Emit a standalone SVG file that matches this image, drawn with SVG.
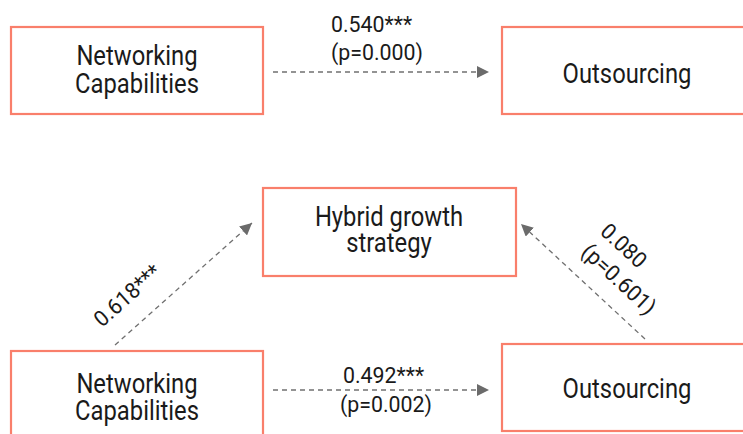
<svg xmlns="http://www.w3.org/2000/svg" width="743" height="434" viewBox="0 0 743 434">
<style>
.box{fill:#fff;stroke:#F97F6B;stroke-width:2.2}
.nt{font-family:"Roboto","Liberation Sans",sans-serif;font-size:28px;fill:#1a1a1a;text-anchor:middle}
.lb{font-family:"Roboto","Liberation Sans",sans-serif;font-size:22px;fill:#1a1a1a}
.ar{fill:none;stroke:#707070;stroke-width:1.3;stroke-dasharray:5 4;marker-end:url(#ah)}
</style>
<defs>
<marker id="ah" viewBox="0 0 12 12" refX="12" refY="6" markerUnits="userSpaceOnUse" markerWidth="12" markerHeight="12" orient="auto">
<path d="M0,0 L12,6 L0,12 z" fill="#6b6b6b"/>
</marker>
</defs>
<rect width="743" height="434" fill="#fff"/>
<g id="connectors">
<path class="ar" d="M273,72 L489,72"/>
<path class="ar" d="M273,390 L489,390"/>
<path class="ar" d="M115,345 L252,223"/>
<path class="ar" d="M645,339 L521,224"/>
<text class="lb" transform="translate(331,32) scale(0.97,1)">0.540***</text>
<text class="lb" transform="translate(331,60) scale(0.97,1)">(p=0.000)</text>
<text class="lb" transform="translate(343,383) scale(0.97,1)">0.492***</text>
<text class="lb" transform="translate(340,412) scale(0.97,1)">(p=0.002)</text>
<text class="lb" transform="translate(102,328) rotate(-41.7) scale(0.97,1)">0.618***</text>
<g transform="translate(599,233) rotate(42.8) scale(0.97,1)">
<text class="lb" x="0" y="0">0.080</text>
<text class="lb" x="0" y="28">(p=0.601)</text>
</g>
</g>
<g id="nc1">
<rect class="box" x="11" y="27" width="252" height="87"/>
<text class="nt" transform="translate(137,65) scale(0.85,1)">Networking</text>
<text class="nt" transform="translate(137,93) scale(0.85,1)">Capabilities</text>
</g>
<g id="out1">
<rect class="box" x="502" y="27" width="250" height="87"/>
<text class="nt" transform="translate(627,83) scale(0.85,1)">Outsourcing</text>
</g>
<g id="hybrid">
<rect class="box" x="263" y="188" width="253" height="88"/>
<text class="nt" transform="translate(389,226) scale(0.85,1)">Hybrid growth</text>
<text class="nt" transform="translate(389,252) scale(0.85,1)">strategy</text>
</g>
<g id="nc2">
<rect class="box" x="11" y="351" width="252" height="87"/>
<text class="nt" transform="translate(137,393) scale(0.85,1)">Networking</text>
<text class="nt" transform="translate(137,420) scale(0.85,1)">Capabilities</text>
</g>
<g id="out2">
<rect class="box" x="502" y="344" width="250" height="87"/>
<text class="nt" transform="translate(627,398) scale(0.85,1)">Outsourcing</text>
</g>
</svg>
